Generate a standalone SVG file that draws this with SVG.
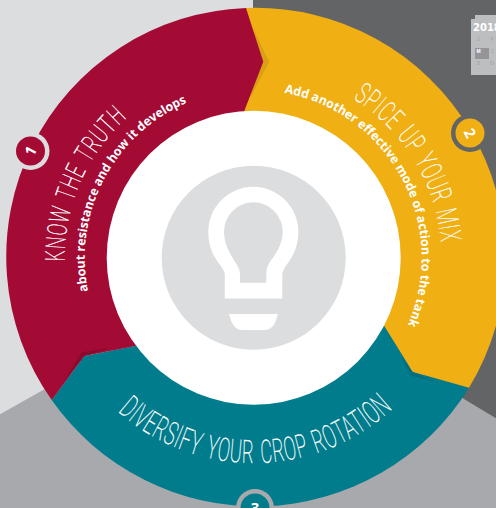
<svg xmlns="http://www.w3.org/2000/svg" width="496" height="508" viewBox="0 0 496 508">
<style>
.h{font-family:"Roboto","Liberation Sans",sans-serif;font-weight:100;fill:#fff;stroke:#fff;stroke-width:.45;letter-spacing:1.6px;word-spacing:3px}
.s{font-family:"Open Sans","Noto Sans",sans-serif;font-weight:700;font-size:12.5px;fill:#fff}
.n{font-family:"Open Sans","Noto Sans",sans-serif;font-weight:700;font-size:15px;fill:#fff;text-anchor:middle}
.c{font-family:"Liberation Sans",sans-serif;font-weight:700;font-size:5px;fill:#a7a9ac;text-anchor:middle}
</style>
<defs>
<path id="p1" d="M64.700 261.300A189 189 0 0 1 159.200 94.300"/>
<path id="p1s" d="M88 291.100A169 169 0 0 1 210 94.800"/>
<path id="p2" d="M353.300 98.600A188 188 0 0 1 438.800 290.600"/>
<path id="p2s" d="M284.300 92.800A168 168 0 0 1 391.300 354.400"/>
<path id="p3" d="M117.800 411.500A205 205 0 0 0 431.200 360.500"/>
</defs>
<g id="background">
<rect width="496" height="508" fill="#dcddde"/>
<rect x="253" width="243" height="508" fill="#636466"/>
<path d="M0 414.300L253 272L496 418.300V508H0Z" fill="#a7a9ac"/>
</g>
<g id="calendar">
<rect x="475" y="15" width="21" height="5" fill="#bcbec0"/>
<rect x="471" y="19" width="25" height="56" fill="#bcbec0"/>
<rect x="475" y="48" width="14" height="11" fill="#939598"/>
<text x="473" y="31" font-family="'DejaVu Sans',sans-serif" font-weight="700" font-size="10" fill="#fff">2018</text>
<text class="c" x="478.500" y="41">J</text><text class="c" x="492" y="41">F</text>
<text class="c" x="478.500" y="53" style="fill:#fff">M</text><text class="c" x="492" y="53">J</text>
<text class="c" x="478.500" y="65">S</text><text class="c" x="492" y="65">O</text>
</g>
<g id="step-3">
<path d="M51.700 400A250 250 0 0 0 469 387.700L412.700 371.700L384.300 326L253 258L135 346L84.300 356Z" fill="#007c8c"/>
<path d="M400 355L410.700 375.700L436.700 381.700L412.700 371.700Z" fill="#006e7d"/>
</g>
<g id="step-2">
<path d="M246 8A250 250 0 0 1 469 387.700L412.700 371.700L384.300 326L253 258L244 111.700Z" fill="#f0b014"/>
<path d="M254 30L269 62L250.700 97L255 62Z" fill="#d9a016"/>
</g>
<g id="step-1">
<path d="M246 8A248.800 248.800 0 0 0 51.700 400L84.300 356L135 346L253 258L244 111.700L263.300 61.700Z" fill="#a30b35"/>
<path d="M63 383L81.700 352.300L112 347.500L84.300 356Z" fill="#8a0a2e"/>
</g>
<g id="hub">
<circle cx="253.700" cy="257.700" r="147" fill="#fff"/>
<circle cx="253.700" cy="257.700" r="92" fill="#dcddde"/>
<path fill="#fff" fill-rule="evenodd" d="M224.800 298.500V275C224.800 269 219 265 216 259C210.500 251 208.300 241 208.300 231.700A45 45 0 0 1 298.300 231.700C298.300 241 296 251 290.500 259C287 265 282.300 269 282.300 275V298.500ZM240 282.700H266.300V273C266.300 268 268 265 270 261.700C275 255 282.700 245 282.700 231.700A29.300 29.300 0 0 0 224 231.700C224 245 231 255 235 261.700C238 266 240 270 240 275Z"/>
<path fill="#fff" d="M229 314H277.700C276 323 272 330 265 330H241.700C235 330 231 323 229 314Z"/>
</g>
<g id="label-1">
<text class="h" font-size="27"><textPath href="#p1" textLength="162" lengthAdjust="spacingAndGlyphs">KNOW THE TRUTH</textPath></text>
<text class="s"><textPath href="#p1s" textLength="230" lengthAdjust="spacingAndGlyphs">about resistance and how it develops</textPath></text>
</g>
<g id="label-2">
<text class="h" font-size="29"><textPath href="#p2" textLength="175" lengthAdjust="spacingAndGlyphs">SPICE UP YOUR MIX</textPath></text>
<text class="s"><textPath href="#p2s" textLength="302" lengthAdjust="spacingAndGlyphs">Add another effective mode of action to the tank</textPath></text>
</g>
<g id="label-3">
<text class="h" font-size="32"><textPath href="#p3" textLength="302" lengthAdjust="spacingAndGlyphs">DIVERSIFY YOUR CROP ROTATION</textPath></text>
</g>
<g id="badge-1">
<circle cx="30.500" cy="151" r="19" fill="#dcddde"/>
<circle cx="30.500" cy="151" r="14.500" fill="#a30b35"/>
<text class="n" transform="translate(30.500 151) rotate(-62)" y="5.500">1</text>
</g>
<g id="badge-2">
<circle cx="470" cy="133" r="19" fill="#636466"/>
<circle cx="470" cy="133" r="14.500" fill="#f0b014"/>
<text class="n" transform="translate(470 133) rotate(62)" y="5.500">2</text>
</g>
<g id="badge-3">
<circle cx="255" cy="508" r="19" fill="#a7a9ac"/>
<circle cx="255" cy="508" r="14.500" fill="#007c8c"/>
<text class="n" x="255" y="512.500">3</text>
</g>
</svg>
